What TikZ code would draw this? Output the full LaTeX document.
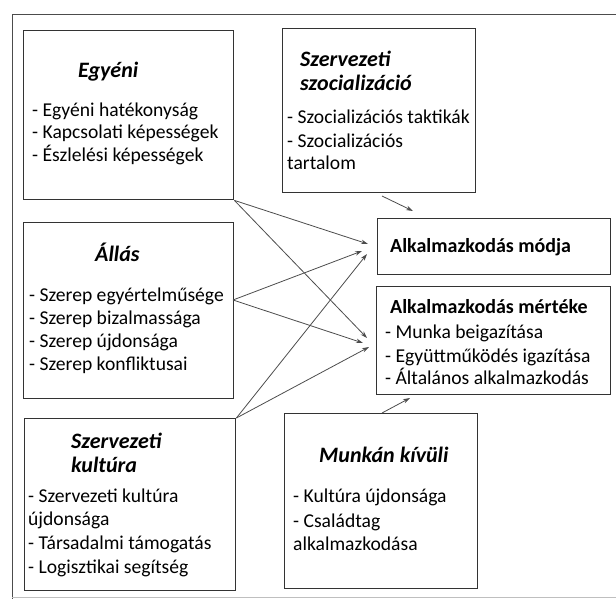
\documentclass[tikz,border=0pt]{standalone}
\usepackage{fontspec}
\setmainfont{Carlito}
\usetikzlibrary{arrows.meta}
\tikzset{
  box/.style={draw=black!80, line width=1.4pt, anchor=north west, inner sep=0pt},
  ttl/.style={anchor=base west, inner sep=0pt, font=\fontsize{22}{24}\selectfont\bfseries\itshape},
  itm/.style={anchor=base west, inner sep=0pt, font=\fontsize{19.6}{22}\selectfont},
  res/.style={anchor=base west, inner sep=0pt, font=\fontsize{20}{22}\selectfont\bfseries},
  conn/.style={draw=black!70, line width=0.8pt, -{Stealth[length=7pt,width=4.5pt]}},
}
\begin{document}
\begin{tikzpicture}[x=1pt,y=-1pt]
\useasboundingbox (0,0) rectangle (616,599);
% outer frame
\draw[black!70, line width=1pt] (12,599) -- (12,15) -- (616,15);
\draw[black!25, line width=1pt] (12,597.5) -- (616,597.5);

% boxes
\node[box, minimum width=210pt, minimum height=169pt] (egy) at (23,30) {};
\node[box, minimum width=210pt, minimum height=176pt] (allas) at (23,222) {};
\node[box, minimum width=211pt, minimum height=172pt] (kult) at (24,418) {};
\node[box, minimum width=193pt, minimum height=164pt] (szoc) at (282,28) {};
\node[box, minimum width=233pt, minimum height=56pt] (modja) at (377,218) {};
\node[box, minimum width=234pt, minimum height=108pt] (mert) at (376,286) {};
\node[box, minimum width=193pt, minimum height=175pt] (munk) at (284,413) {};

% Egyéni
\node[ttl] (egyT) at (78,78) {Egyéni};
\node[itm] (egy1) at (32,117) {- Egyéni hatékonyság};
\node[itm] (egy2) at (32,139) {- Kapcsolati képességek};
\node[itm] (egy3) at (32,161) {- Észlelési képességek};

% Állás
\node[ttl] (allT) at (95,261) {Állás};
\node[itm] (all1) at (29,301) {- Szerep egyértelműsége};
\node[itm] (all2) at (29,324) {- Szerep bizalmassága};
\node[itm] (all3) at (29,347) {- Szerep újdonsága};
\node[itm] (all4) at (29,370) {- Szerep konfliktusai};

% Szervezeti kultúra
\node[ttl] (kulT1) at (71,448) {Szervezeti};
\node[ttl] (kulT2) at (71,472) {kultúra};
\node[itm] (kul1) at (28,502) {- Szervezeti kultúra};
\node[itm] (kul2) at (28,525) {újdonsága};
\node[itm] (kul3) at (28,549) {- Társadalmi támogatás};
\node[itm] (kul4) at (28,573) {- Logisztikai segítség};

% Szervezeti szocializáció
\node[ttl] (szoT1) at (300,67) {Szervezeti};
\node[ttl] (szoT2) at (300,91) {szocializáció};
\node[itm] (szo1) at (287,124) {- Szocializációs taktikák};
\node[itm] (szo2) at (287,148) {- Szocializációs};
\node[itm] (szo3) at (287,170) {tartalom};

% Munkán kívüli
\node[ttl] (munT) at (319,462) {Munkán kívüli};
\node[itm] (mun1) at (293,502) {- Kultúra újdonsága};
\node[itm] (mun2) at (293,527) {- Családtag};
\node[itm] (mun3) at (293,550) {alkalmazkodása};

% Alkalmazkodás
\node[res] (modT) at (390,252) {Alkalmazkodás módja};
\node[res] (merT) at (390,313) {Alkalmazkodás mértéke};
\node[itm] (mer1) at (385,338) {- Munka beigazítása};
\node[itm] (mer2) at (385,362) {- Együttműködés igazítása};
\node[itm] (mer3) at (385,384) {- Általános alkalmazkodás};

% connector end points
\coordinate (aS) at (233,300);
\coordinate (m1) at (368,244);
\coordinate (m2) at (362,251);
\coordinate (m3) at (367,254);
\coordinate (r1) at (367,338);
\coordinate (r2) at (363,343);
\coordinate (r3) at (369,347);
\coordinate (szS) at (382,196);
\coordinate (szE) at (413,211);
\coordinate (muS) at (382,413);
\coordinate (muE) at (410,398);

\draw[conn] (egy.south east) -- (m1);
\draw[conn] (egy.south east) -- (r1);
\draw[conn] (aS) -- (m2);
\draw[conn] (aS) -- (r2);
\draw[conn] (kult.north east) -- (m3);
\draw[conn] (kult.north east) -- (r3);
\draw[conn] (szS) -- (szE);
\draw[conn] (muS) -- (muE);
\end{tikzpicture}
\end{document}
